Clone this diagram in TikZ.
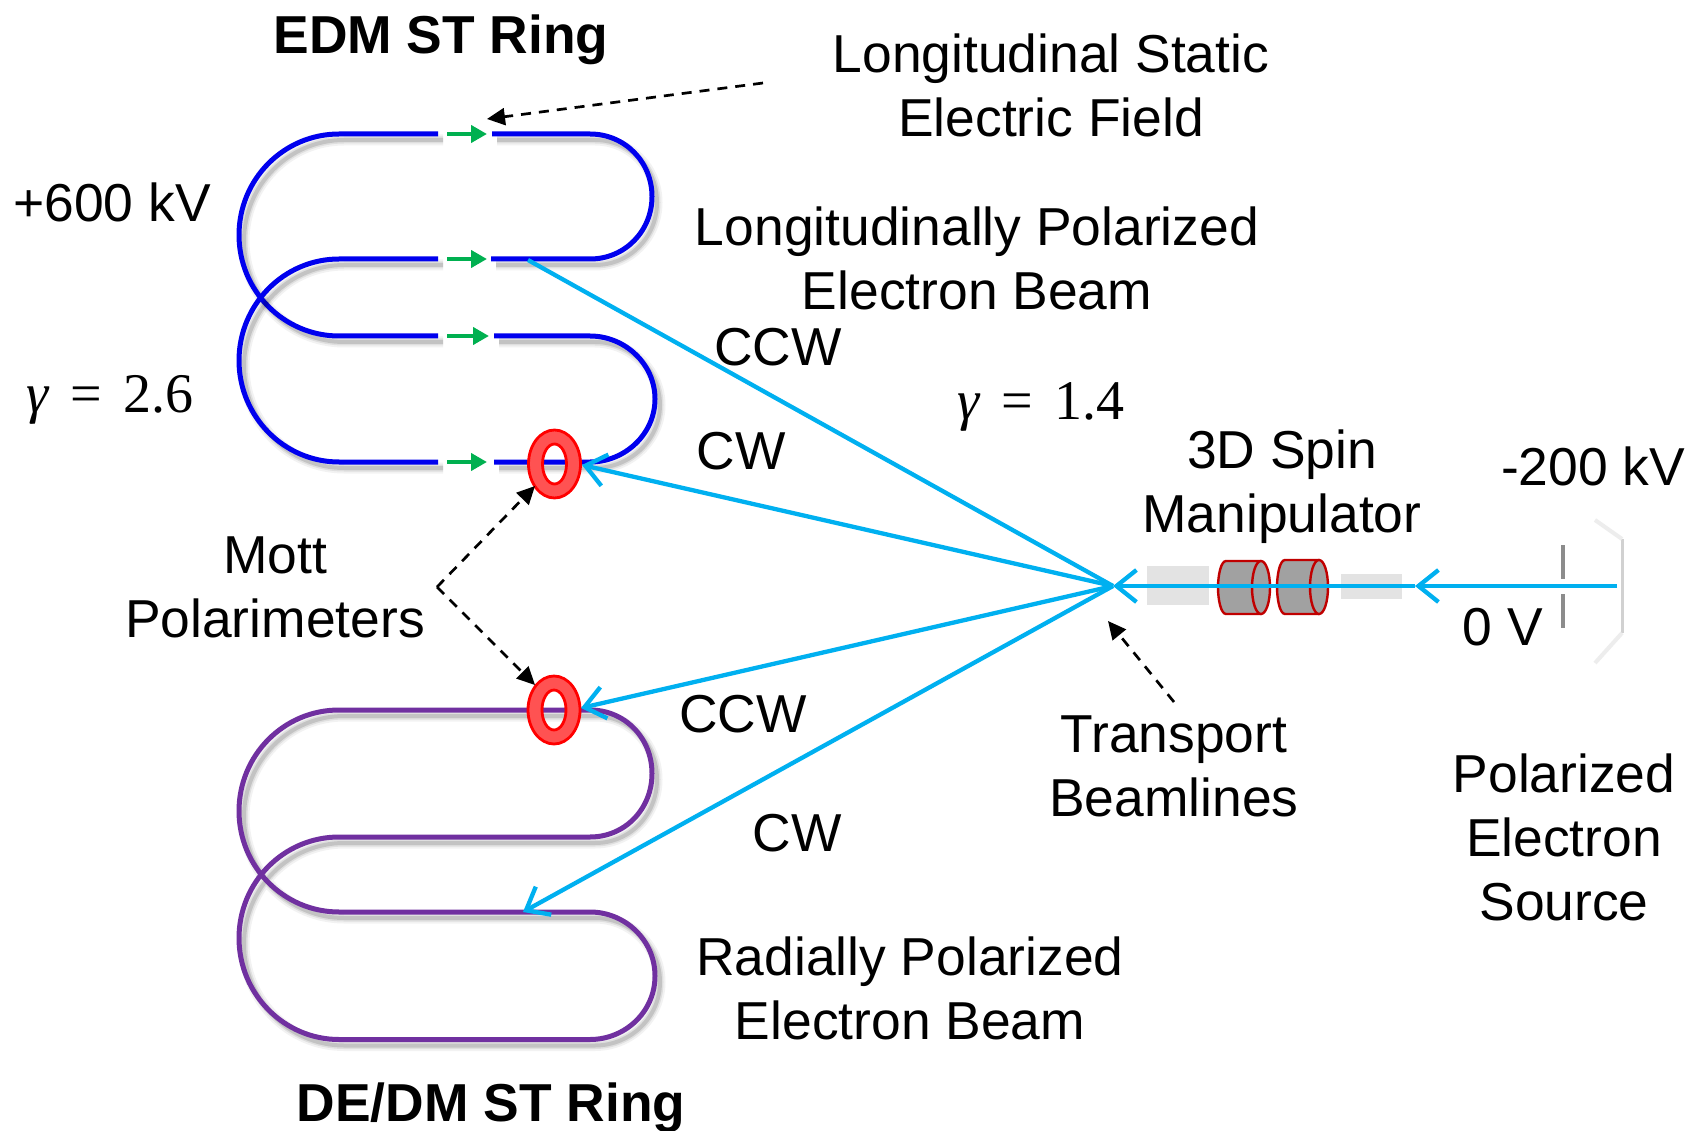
\documentclass[tikz,border=0pt]{standalone}
\usepackage{fontspec}
\setmainfont{Liberation Sans}
\newfontfamily\serifmath{Liberation Serif}
\usetikzlibrary{arrows.meta}
\definecolor{beamcyan}{HTML}{00B0F0}
\definecolor{ringblue}{HTML}{0000EE}
\definecolor{ringpurple}{HTML}{7030A0}
\definecolor{fieldgreen}{HTML}{00B050}
\definecolor{cylred}{HTML}{C00000}
\tikzset{
  lbl/.style={align=center,inner sep=0pt,font=\fontsize{53.4}{64}\selectfont},
  boldlbl/.style={lbl,font=\fontsize{53.4}{64}\selectfont\bfseries},
  mathlbl/.style={inner sep=0pt,font=\fontsize{56}{60}\selectfont\serifmath},
  softshadow/.style={
    preaction={draw=black,draw opacity=.05,line width=11pt,transform canvas={shift={(5pt,-6pt)}}},
    preaction={draw=black,draw opacity=.08,line width=7pt,transform canvas={shift={(5pt,-6pt)}}},
    preaction={draw=black,draw opacity=.12,line width=4pt,transform canvas={shift={(5pt,-6pt)}}}},
  bluering/.style={softshadow,draw=ringblue,line width=5pt},
  purplering/.style={softshadow,draw=ringpurple,line width=5pt},
  beamline/.style={draw=beamcyan,line width=4.3pt},
  beamarrow/.style={beamline,-{Straight Barb[length=20pt,width=32pt,line width=4.3pt]}},
  greenarrow/.style={draw=fieldgreen,line width=4.4pt,-{Triangle[length=16pt,width=17pt]}},
  dasharrow/.style={draw=black,line width=2.7pt,dash pattern=on 10pt off 8pt,-{Triangle[length=18pt,width=17pt]}},
  mott/.style={draw=red,line width=2.8pt,fill=red!68!white,even odd rule},
  cyl/.style={draw=cylred,line width=2.4pt},
  cylfill/.style={fill=black!37},
  graybox/.style={fill=black!11,draw=none}
}
\begin{document}
\begin{tikzpicture}[x=1pt,y=-1pt]
\path[fill=white,use as bounding box] (0,0) rectangle (1689,1131);
% named points
\coordinate (hub) at (1113,586);
\coordinate (srcend) at (1617,586);
\coordinate (mid) at (1415,586);
\coordinate (tapTop) at (528,260);
\coordinate (entryA) at (582,465);
\coordinate (entryB) at (581,708);
\coordinate (entryC) at (523,912);
\coordinate (ringA) at (554.5,464);
\coordinate (ringB) at (554,710);
\coordinate (corner) at (437,587);
\coordinate (ringAtip) at (535,486);
\coordinate (ringBtip) at (535,685);
\coordinate (fieldfrom) at (763,83);
\coordinate (fieldtip) at (487,119);
\coordinate (transfrom) at (1174,702);
\coordinate (transtip) at (1108,621);
% blue ring
\draw[bluering] (438,134)--(339,134) .. controls (284,134) and (239,179) .. (239,235) .. controls (239,291) and (284,336) .. (339,336)--(438,336);
\draw[bluering] (438,259)--(339,259) .. controls (284,259) and (239,304.5) .. (239,360.5) .. controls (239,416.5) and (284,462) .. (339,462)--(438,462);
\draw[bluering] (492,134)--(590,134) .. controls (625,134) and (652,162) .. (652,196.5) .. controls (652,231) and (625,259) .. (590,259)--(491,259);
\draw[bluering] (494,336)--(590,336) .. controls (625,336) and (655,364) .. (655,399) .. controls (655,434) and (625,462) .. (590,462)--(494,462);
% purple ring
\draw[purplering] (590,710)--(339,710) .. controls (284,710) and (239,755) .. (239,811) .. controls (239,867) and (284,912) .. (339,912)--(590,912) .. controls (625,912) and (655,940) .. (655,976) .. controls (655,1012) and (625,1039.5) .. (590,1039.5)--(339,1039.5) .. controls (284,1039.5) and (239,994) .. (239,938) .. controls (239,882) and (284,837) .. (339,837)--(590,837) .. controls (625,837) and (652,809) .. (652,773.5) .. controls (652,738) and (625,710) .. (590,710);
% green field arrows
\coordinate (ga1) at (447,134); \coordinate (gb1) at (487,134);
\coordinate (ga2) at (447,259); \coordinate (gb2) at (487,259);
\coordinate (ga3) at (447,336); \coordinate (gb3) at (489,336);
\coordinate (ga4) at (447,462); \coordinate (gb4) at (487,462);
\draw[greenarrow] (ga1)--(gb1);
\draw[greenarrow] (ga2)--(gb2);
\draw[greenarrow] (ga3)--(gb3);
\draw[greenarrow] (ga4)--(gb4);
% Mott polarimeters
\path[mott] (ringA) ellipse [x radius=26pt,y radius=34pt] (ringA) ellipse [x radius=12pt,y radius=20pt];
\path[mott] (ringB) ellipse [x radius=26pt,y radius=34pt] (ringB) ellipse [x radius=12pt,y radius=20pt];
% spin manipulator
\fill[graybox] (1147,566) rectangle (1209,605);
\fill[graybox] (1341,574) rectangle (1402,599);
\path[cylfill] (1261,561)--(1226,561) .. controls (1221,561) and (1218,575) .. (1218,587.5) .. controls (1218,600) and (1221,614) .. (1226,614)--(1261,614)--cycle;
\draw[cyl] (1261,561)--(1226,561) .. controls (1221,561) and (1218,575) .. (1218,587.5) .. controls (1218,600) and (1221,614) .. (1226,614)--(1261,614);
\draw[cyl,cylfill] (1261,587.5) ellipse [x radius=9pt,y radius=26.5pt];
\path[cylfill] (1319,560)--(1285,560) .. controls (1280,560) and (1277,574) .. (1277,587) .. controls (1277,600) and (1280,614) .. (1285,614)--(1319,614)--cycle;
\draw[cyl] (1319,560)--(1285,560) .. controls (1280,560) and (1277,574) .. (1277,587) .. controls (1277,600) and (1280,614) .. (1285,614)--(1319,614);
\draw[cyl,cylfill] (1319,587) ellipse [x radius=9pt,y radius=27pt];
% source electrodes
\draw[line width=3.8pt,draw=black!45] (1563,545)--(1563,579) (1563,594)--(1563,628);
\draw[line width=3pt,draw=black!18] (1622,539)--(1622,633);
\draw[line width=4pt,draw=black!7] (1622,539)--(1595,520) (1622,633)--(1595,663);
% beams
\draw[beamarrow] (srcend)--(mid);
\draw[beamarrow] (mid)--(hub);
\draw[beamline] (hub)--(tapTop);
\draw[beamarrow] (hub)--(entryA);
\draw[beamarrow] (hub)--(entryB);
\draw[beamarrow] (hub)--(entryC);
% dashed pointers
\draw[dasharrow] (fieldfrom)--(fieldtip);
\draw[dasharrow] (corner)--(ringAtip);
\draw[dasharrow] (corner)--(ringBtip);
\draw[dasharrow] (transfrom)--(transtip);
% labels
\node[boldlbl] (edm) at (441,40) {EDM ST Ring};
\node[boldlbl] (dedm) at (491,1108) {DE/DM ST Ring};
\node[lbl] (static) at (1051,85) {Longitudinal Static\\Electric Field};
\node[lbl] (plus) at (112,202) {+600 kV};
\node[lbl] (longbeam) at (977,258) {Longitudinally Polarized\\Electron Beam};
\node[lbl] (ccwA) at (778,347) {CCW};
\node[lbl] (cwA) at (741,451) {CW};
\node[lbl] (spin) at (1282,487) {3D Spin\\Manipulator};
\node[lbl] (minus) at (1593,466) {-200 kV};
\node[lbl] (zero) at (1503,627) {0 V};
\node[lbl] (mottl) at (275,587) {Mott\\Polarimeters};
\node[lbl] (ccwB) at (743,714) {CCW};
\node[lbl] (cwB) at (797,833) {CW};
\node[lbl] (trans) at (1174,766) {Transport\\Beamlines};
\node[lbl] (source) at (1564,837) {Polarized\\Electron\\Source};
\node[lbl] (radial) at (910,988) {Radially Polarized\\Electron Beam};
\node[mathlbl] (gamA) at (110,400) {{\itshape γ}\hspace{22pt}=\hspace{22pt}2.6};
\node[mathlbl] (gamB) at (1041,407) {{\itshape γ}\hspace{22pt}=\hspace{22pt}1.4};
\end{tikzpicture}
\end{document}
